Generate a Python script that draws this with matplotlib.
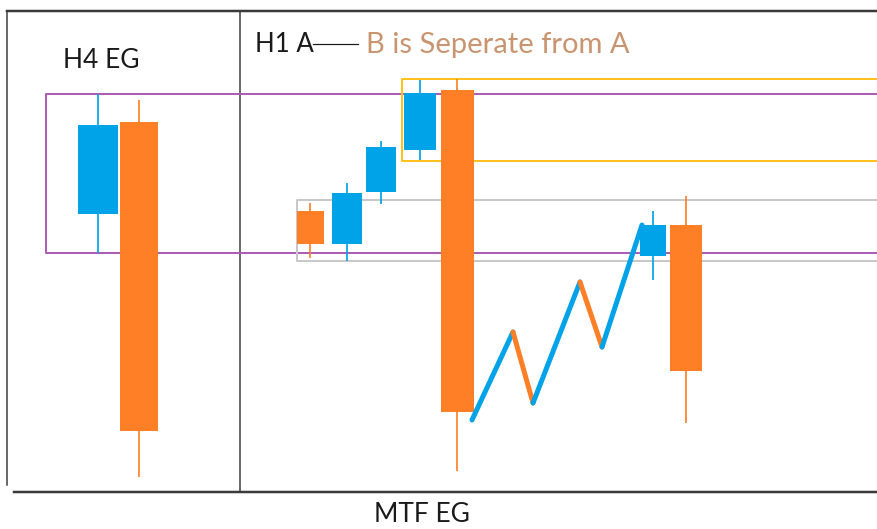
import numpy as np
import matplotlib as mpl
mpl.use('Agg')
import matplotlib.pyplot as plt

mpl.rcParams['font.family'] = ['Lato', 'DejaVu Sans']

# candle values in pixel rows (y grows downward)
h4_x     = [98, 139]
h4_open  = [214, 122]
h4_close = [125, 431]
h4_high  = [94, 100]
h4_low   = [253, 477]

h1_x     = [310, 347, 381, 420, 457, 653, 686]
h1_open  = [211, 244, 192, 150, 90, 256, 225]
h1_close = [244, 193, 147, 93, 412, 225, 371]
h1_high  = [203, 183, 141, 80, 79, 211, 196]
h1_low   = [258, 261, 204, 160, 471, 280, 423]
h1_width = [27, 30, 30, 32, 33, 26, 32]

# zigzag after the big candle
zz_x = [472, 513, 533, 580, 602, 642]
zz_y = [420, 332, 403, 282, 347, 225]

# zones: left, top, bottom, colour
zone_left   = [46, 402, 297]
zone_top    = [94, 79, 200]
zone_bottom = [253, 161, 261]
zone_color  = ['#AE5DB5', '#FFC11E', '#C8C8C8']

BLUE = '#00A2E8'
ORANGE = '#FF7F27'
W = 877
H = 529

fig = plt.figure(figsize=(W / 100, H / 100), dpi=100)
ax = fig.add_axes([0, 0, 1, 1])
ax.set_xlim(0, W)
ax.set_ylim(H, 0)
ax.axis('off')

px = 0.72  # one pixel in points

# frame
ax.plot([7, W], [11, 11], color='#3a3a3a', lw=2.5 * px)
ax.plot([7, 7], [11, 485], color='#3a3a3a', lw=1.5 * px)
ax.plot([14, W], [492, 492], color='#3a3a3a', lw=2.5 * px)
ax.plot([240, 240], [11, 492], color='#3a3a3a', lw=1.5 * px)

# zones
for l, t, b, c in zip(zone_left, zone_top, zone_bottom, zone_color):
    ax.plot([W + 5, l, l, W + 5], [t, t, b, b], color=c, lw=2 * px, zorder=2)

def candles(xs, o, c, hi, lo, widths):
    for x, op, cl, h, l, w in zip(xs, o, c, hi, lo, widths):
        col = BLUE if cl < op else ORANGE
        ax.vlines(x, h, l, color=col, lw=2 * px, zorder=3, alpha=0.85)
        ax.bar(x, abs(op - cl), bottom=min(op, cl), width=w, color=col,
               zorder=4, linewidth=0)

candles(h4_x, h4_open, h4_close, h4_high, h4_low, [40, 38])
candles(h1_x, h1_open, h1_close, h1_high, h1_low, h1_width)

# zigzag: up legs blue, down legs orange
for i in range(len(zz_x) - 1):
    col = BLUE if zz_y[i + 1] < zz_y[i] else ORANGE
    ax.plot(zz_x[i:i + 2], zz_y[i:i + 2], color=col, lw=5 * px,
            solid_capstyle='round', zorder=5)

ax.text(63, 61, 'H4 EG', fontsize=19, va='center', ha='left', color='#1a1a1a')
ax.text(255, 45, 'H1 A', fontsize=18.5, va='center', ha='left', color='#1a1a1a')
ax.plot([313, 358], [44, 44], color='#1a1a1a', lw=1.2 * px)
ax.text(366, 45, 'B is Seperate from A', fontsize=21, va='center', ha='left',
        color='#C99570')
ax.text(422, 515, 'MTF EG', fontsize=19, va='center', ha='center', color='#1a1a1a')

plt.savefig('out.png', dpi=100)
